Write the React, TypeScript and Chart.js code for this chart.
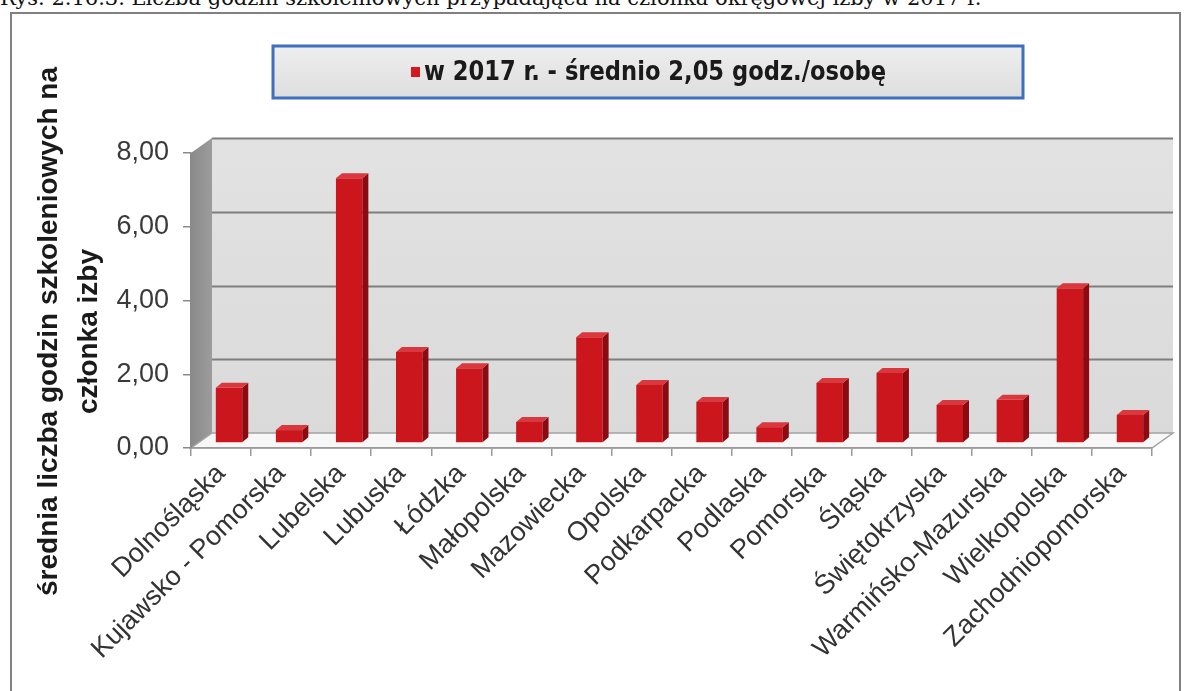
import React, { useEffect, useRef } from "react";
import { Chart, registerables } from "chart.js";

Chart.register(...registerables);

const categories = [
  "Dolnośląska",
  "Kujawsko - Pomorska",
  "Lubelska",
  "Lubuska",
  "Łódzka",
  "Małopolska",
  "Mazowiecka",
  "Opolska",
  "Podkarpacka",
  "Podlaska",
  "Pomorska",
  "Śląska",
  "Świętokrzyska",
  "Warmińsko-Mazurska",
  "Wielkopolska",
  "Zachodniopomorska",
];
const values2017 = [1.5, 0.35, 7.18, 2.47, 2.03, 0.57, 2.87, 1.57, 1.11, 0.43, 1.63, 1.9, 1.03, 1.17, 4.2, 0.76];
const seriesLabel = "w 2017 r. - średnio 2,05 godz./osobę";
const yTicks = [0, 2, 4, 6, 8];
const yTitle = ["średnia liczba godzin szkoleniowych na", "członka izby"];
const caption = "Rys. 2.16.3. Liczba godzin szkoleniowych przypadająca na członka okręgowej izby w 2017 r.";

const SANS = "'Liberation Sans', Arial, sans-serif";
const NARROW = "'Liberation Sans Narrow', 'DejaVu Sans Condensed', 'Liberation Sans', sans-serif";

// 3D look
const WALL_DX = 21;
const WALL_DY = 15;
const BAR_DX = 8;
const BAR_DY = 5;
const SIDE_X = 6;
const SIDE_Y = 5;

const threeD = {
  id: "threeD",
  beforeDraw(chart: any) {
    const { ctx, chartArea: a, scales } = chart;
    const y = scales.y;
    const top = y.getPixelForValue(yTicks[yTicks.length - 1]);
    const bot = y.getPixelForValue(0);
    ctx.save();
    // back wall
    const bl = a.left + WALL_DX;
    const br = a.right + WALL_DX;
    const g = ctx.createLinearGradient(0, top - WALL_DY, 0, bot - WALL_DY);
    g.addColorStop(0, "#e2e2e2");
    g.addColorStop(1, "#dadada");
    ctx.fillStyle = g;
    ctx.fillRect(bl, top - WALL_DY, br - bl, bot - top);
    // gridlines on back wall
    ctx.strokeStyle = "#7e7e7e";
    ctx.lineWidth = 2;
    yTicks.forEach((v) => {
      if (v === 0) return;
      const py = Math.round(y.getPixelForValue(v) - WALL_DY) + 0.5;
      ctx.beginPath();
      ctx.moveTo(bl, py);
      ctx.lineTo(br, py);
      ctx.stroke();
    });
    // left wall
    const lg = ctx.createLinearGradient(a.left, 0, bl, 0);
    lg.addColorStop(0, "#8a8a8a");
    lg.addColorStop(1, "#9c9c9c");
    ctx.fillStyle = lg;
    ctx.beginPath();
    ctx.moveTo(a.left, top);
    ctx.lineTo(bl, top - WALL_DY);
    ctx.lineTo(bl, bot - WALL_DY);
    ctx.lineTo(a.left, bot);
    ctx.closePath();
    ctx.fill();
    // floor
    ctx.fillStyle = "#f7f7f7";
    ctx.strokeStyle = "#a2a2a2";
    ctx.lineWidth = 1.5;
    ctx.beginPath();
    ctx.moveTo(a.left, bot);
    ctx.lineTo(bl, bot - WALL_DY);
    ctx.lineTo(br, bot - WALL_DY);
    ctx.lineTo(a.right, bot);
    ctx.closePath();
    ctx.fill();
    ctx.stroke();
    ctx.restore();
  },
  beforeDatasetsDraw(chart: any) {
    chart.ctx.save();
    chart.ctx.translate(BAR_DX, -BAR_DY);
  },
  afterDatasetsDraw(chart: any) {
    const { ctx } = chart;
    const meta = chart.getDatasetMeta(0);
    meta.data.forEach((el: any) => {
      const { x, y, base, width } = el.getProps(["x", "y", "base", "width"], true);
      const l = x - width / 2;
      const r = x + width / 2;
      // side
      ctx.fillStyle = "#8c0a10";
      ctx.beginPath();
      ctx.moveTo(r, y);
      ctx.lineTo(r + SIDE_X, y - SIDE_Y);
      ctx.lineTo(r + SIDE_X, base - SIDE_Y);
      ctx.lineTo(r, base);
      ctx.closePath();
      ctx.fill();
      // top
      ctx.fillStyle = "#d9383e";
      ctx.beginPath();
      ctx.moveTo(l, y);
      ctx.lineTo(l + SIDE_X, y - SIDE_Y);
      ctx.lineTo(r + SIDE_X, y - SIDE_Y);
      ctx.lineTo(r, y);
      ctx.closePath();
      ctx.fill();
    });
    ctx.restore();
  },
  afterDraw(chart: any) {
    const { ctx, scales } = chart;
    // legend box
    const bx = 273, by = 46, bw = 750, bh = 52;
    ctx.save();
    const g = ctx.createLinearGradient(0, by, 0, by + bh);
    g.addColorStop(0, "#eeeeee");
    g.addColorStop(1, "#dedede");
    ctx.fillStyle = g;
    ctx.fillRect(bx, by, bw, bh);
    ctx.strokeStyle = "#3f6fbf";
    ctx.lineWidth = 3;
    ctx.strokeRect(bx, by, bw, bh);
    const label = chart.data.datasets[0].label as string;
    ctx.font = `bold 27px ${NARROW}`;
    ctx.textBaseline = "middle";
    ctx.textAlign = "left";
    ctx.fillStyle = "#d11a20";
    ctx.fillRect(411, by + bh / 2 - 5, 9, 10);
    ctx.fillStyle = "#1a1a1a";
    ctx.fillText(label, 424, by + bh / 2 + 1, 462);

    // y axis title (two lines, rotated)
    const y = scales.y;
    const cy = (y.getPixelForValue(0) + y.getPixelForValue(8)) / 2 + 31;
    ctx.font = `bold 28px ${SANS}`;
    ctx.fillStyle = "#1a1a1a";
    ctx.textAlign = "center";
    ctx.textBaseline = "middle";
    const lineX = [49, 89];
    yTitle.forEach((t, i) => {
      ctx.save();
      ctx.translate(lineX[i], cy);
      ctx.rotate(-Math.PI / 2);
      ctx.fillText(t, 0, 0);
      ctx.restore();
    });
    ctx.restore();
  },
};

export default function App() {
  const ref = useRef<HTMLCanvasElement | null>(null);
  useEffect(() => {
    if (!ref.current) return;
    const chart = new Chart(ref.current, {
      type: "bar",
      data: {
        labels: categories,
        datasets: [
          {
            label: seriesLabel,
            data: values2017,
            backgroundColor: "#cc161d",
            borderWidth: 0,
            barPercentage: 0.44,
            categoryPercentage: 1,
            clip: false as any,
          },
        ],
      },
      options: {
        animation: false,
        responsive: true,
        maintainAspectRatio: false,
        layout: { padding: { top: 153, right: 32, left: 0, bottom: 0 } },
        plugins: {
          legend: { display: false },
          tooltip: { enabled: false },
        },
        scales: {
          x: {
            offset: true,
            grid: {
              display: true,
              drawOnChartArea: false,
              drawTicks: true,
              tickLength: 8,
              color: "#9a9a9a",
              lineWidth: 1.5,
            },
            border: { display: true, color: "#9a9a9a", width: 1.5 },
            ticks: {
              autoSkip: false,
              maxRotation: 45,
              minRotation: 45,
              padding: 2,
              color: "#333333",
              font: { family: SANS, size: 27 },
            },
            afterFit: (s: any) => {
              s.height = 243;
            },
          },
          y: {
            min: 0,
            max: 8,
            afterBuildTicks: (s: any) => {
              s.ticks = yTicks.map((v) => ({ value: v }));
            },
            grid: {
              display: true,
              drawOnChartArea: false,
              drawTicks: true,
              tickLength: 8,
              color: "#8a8a8a",
              lineWidth: 1.5,
            },
            border: { display: true, color: "#8a8a8a", width: 1.5 },
            ticks: {
              padding: 14,
              color: "#3a3a3a",
              font: { family: SANS, size: 27 },
              callback: (v: any) => Number(v).toFixed(2).replace(".", ","),
            },
            title: { display: false },
            afterFit: (s: any) => {
              s.width = 191;
            },
          },
        },
      },
      plugins: [threeD],
    });
    return () => chart.destroy();
  }, []);

  return (
    <div style={{ position: "fixed", left: 0, top: 0, width: 1184, height: 691, background: "#fff", overflow: "hidden" }}>
      <div
        style={{
          position: "absolute",
          left: 0,
          top: -14,
          fontFamily: "'DejaVu Serif', serif",
          fontSize: 21,
          lineHeight: "24px",
          whiteSpace: "nowrap",
          color: "#111",
        }}
      >
        {caption}
      </div>
      <div
        style={{
          position: "absolute",
          left: 10,
          top: 12,
          width: 1171,
          height: 700,
          border: "2px solid #808080",
          boxSizing: "border-box",
        }}
      />
      <div style={{ position: "absolute", left: 0, top: 0, width: 1184, height: 691 }}>
        <canvas ref={ref} />
      </div>
    </div>
  );
}
